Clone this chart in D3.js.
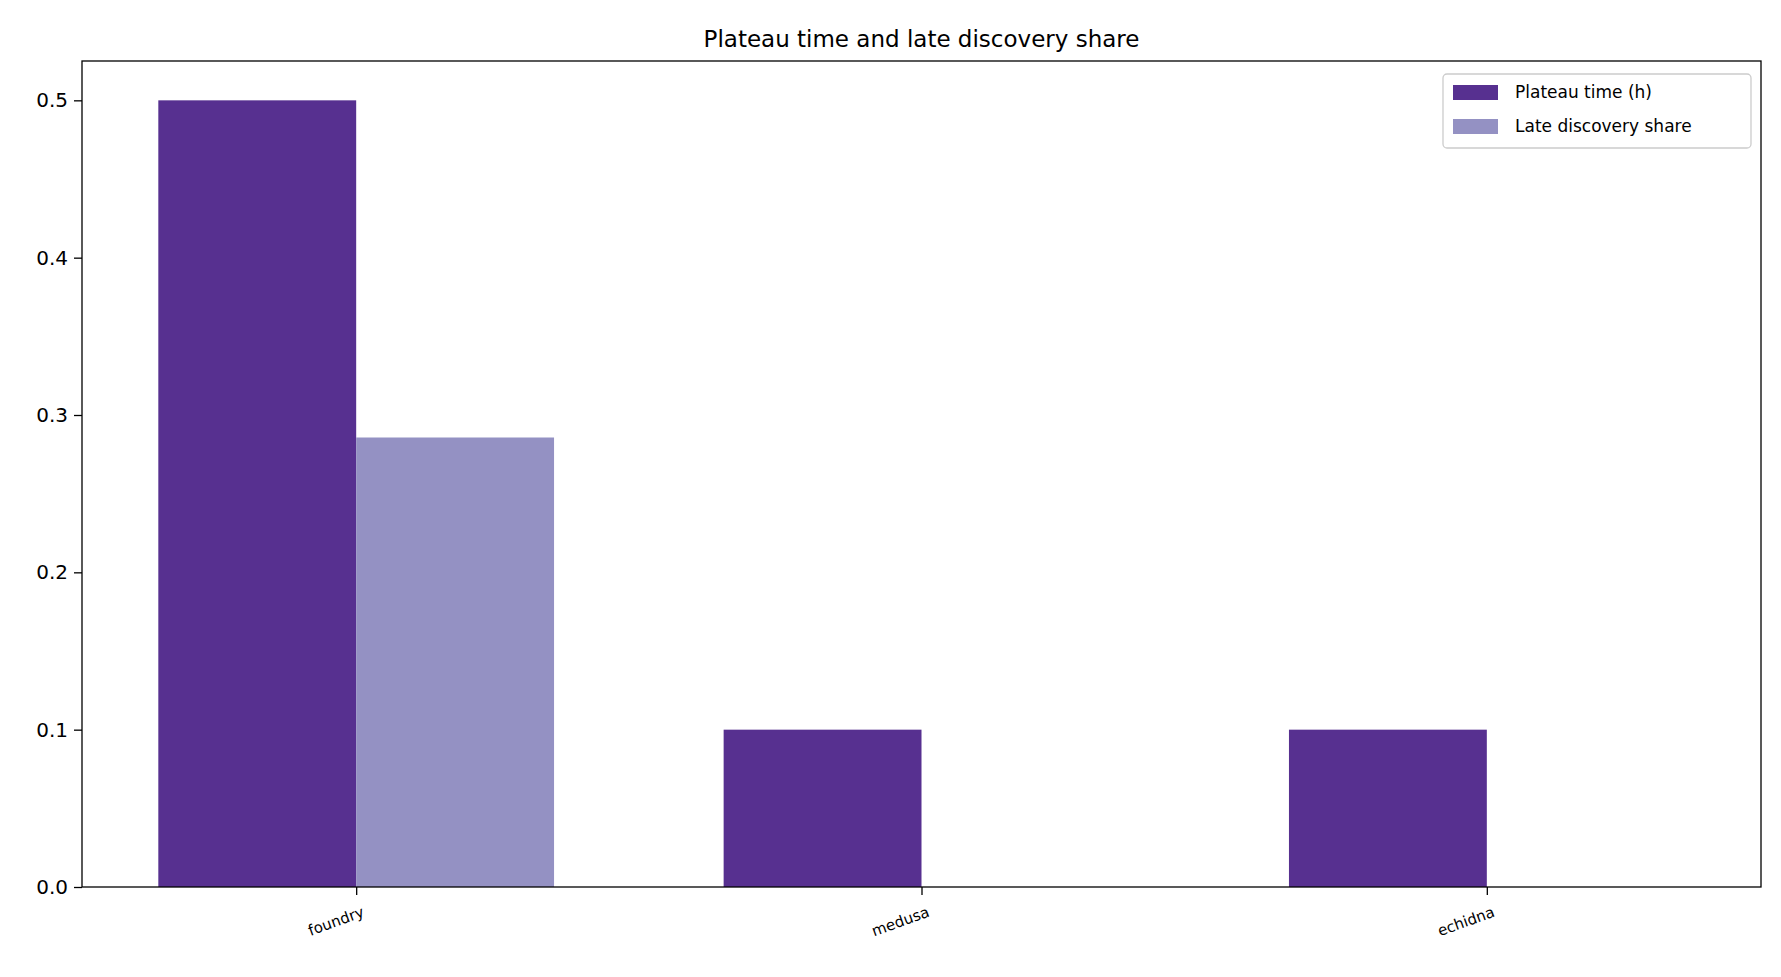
<!DOCTYPE html><html><head><meta charset="utf-8"><script src="https://cdn.jsdelivr.net/npm/d3@7"></script>
<style>body{margin:0;background:#fff}text{font-family:"DejaVu Sans",sans-serif}</style></head><body>
<svg id="c" width="1781" height="977"></svg>
<script>
const categories=["foundry","medusa","echidna"];
const plateau=[0.5,0.1,0.1];
const late=[0.2857,0,0];
const seriesNames=["Plateau time (h)","Late discovery share"];
const colors=["#573090","#9491c3"];
const yTicks=[0,0.1,0.2,0.3,0.4,0.5];
const L=82,R=1761,T=61,B=887;
const svg=d3.select("#c");
const x=d3.scaleLinear().domain([-0.485,2.485]).range([L,R]);
const y=d3.scaleLinear().domain([0,0.525]).range([B,T]);
const w=0.35;
[plateau,late].forEach((s,si)=>{
 svg.selectAll(null).data(s).enter().append("rect")
  .attr("x",(d,i)=>x(i+(si===0?-w:0))).attr("width",x(w)-x(0))
  .attr("y",d=>y(d)).attr("height",d=>B-y(d)).attr("fill",colors[si]);
});
const ya=svg.append("g").attr("transform",`translate(${L},0)`).call(d3.axisLeft(y).tickValues(yTicks).tickFormat(d3.format(".1f")).tickSize(8).tickPadding(6));
ya.selectAll("text").style("font-size","20px").attr("fill","#000");
const xa=svg.append("g").attr("transform",`translate(0,${B})`).call(d3.axisBottom(x).tickValues([0,1,2]).tickFormat(i=>categories[i]).tickSize(8));
xa.selectAll("text").style("font-size","15px").attr("text-anchor","end").attr("transform","translate(0,6) rotate(-20)").attr("dx","0").attr("dy","0.9em");
[ya,xa].forEach(a=>{a.select(".domain").remove();a.selectAll("line").attr("stroke","#000").attr("stroke-width",1.3);});
svg.append("rect").attr("x",L).attr("y",T).attr("width",R-L).attr("height",B-T).attr("fill","none").attr("stroke","#000").attr("stroke-width",1.3);
svg.append("text").attr("x",(L+R)/2).attr("y",T-14).attr("text-anchor","middle").style("font-size","23px").text("Plateau time and late discovery share");
const lg=svg.append("g").attr("transform","translate(1443,74)");
lg.append("rect").attr("width",308).attr("height",74).attr("rx",4).attr("fill","#fff").attr("stroke","#ccc").attr("stroke-width",1.3);
seriesNames.forEach((n,i)=>{
 lg.append("rect").attr("x",10).attr("y",11+i*34).attr("width",45).attr("height",15).attr("fill",colors[i]);
 lg.append("text").attr("x",72).attr("y",24+i*34).style("font-size","17px").text(n);
});
</script></body></html>
